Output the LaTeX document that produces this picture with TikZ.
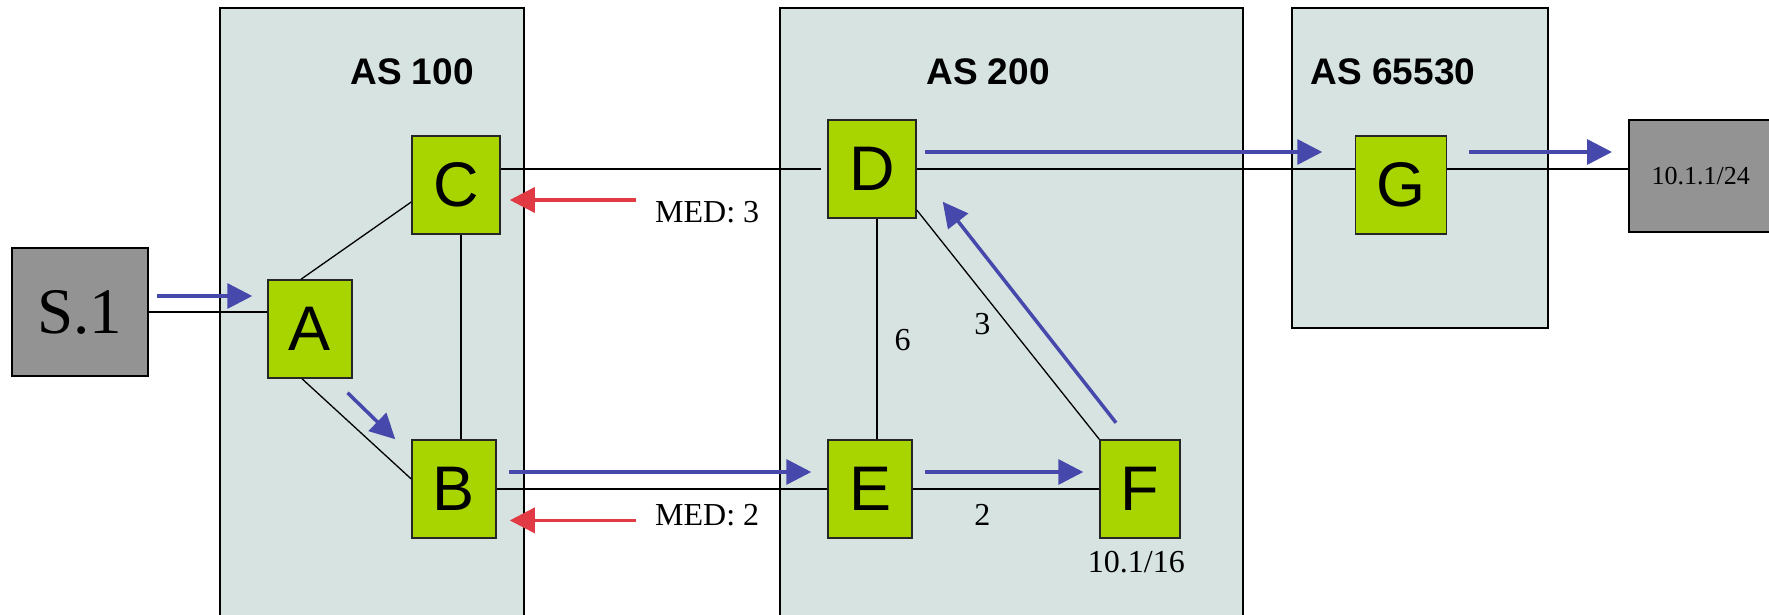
\documentclass[tikz,border=0pt]{standalone}
\usepackage{fontspec}
\setmainfont{Liberation Serif}
\newfontfamily\arialf{Liberation Sans}
\usetikzlibrary{arrows.meta}
\definecolor{asfill}{RGB}{214,227,225}
\definecolor{rgreen}{RGB}{168,212,0}
\definecolor{hostgray}{RGB}{147,147,147}
\definecolor{flowblue}{RGB}{70,72,172}
\definecolor{medred}{RGB}{226,58,68}
\tikzset{
 asbox/.style={draw=black, line width=1.5pt, fill=asfill},
 router/.style={draw=black!85, line width=1.5pt, fill=rgreen, inner sep=0pt, minimum height=98pt, font=\arialf\fontsize{63}{63}\selectfont},
 host/.style={draw=black, line width=1.5pt, fill=hostgray, inner sep=0pt},
 link/.style={line width=1.3pt, black},
 flow/.style={line width=3.5pt, flowblue, -{Triangle[length=25pt,width=25pt]}},
 medflow/.style={line width=3.5pt, medred, -{Triangle[length=25pt,width=25pt]}},
 aslabel/.style={font=\arialf\bfseries\fontsize{37}{37}\selectfont, inner sep=0pt},
 cost/.style={font=\fontsize{32}{32}\selectfont, inner sep=0pt},
}
\begin{document}
\begin{tikzpicture}[x=1pt,y=-1pt]
\clip (0,0) rectangle (1769,615);
% AS areas
\draw[asbox] (220,8) rectangle (524,640);
\draw[asbox] (780,8) rectangle (1243,640);
\draw[asbox] (1292,8) rectangle (1548,328);
\node[aslabel] (as100) at (412,72) {AS 100};
\node[aslabel] (as200) at (988,72) {AS 200};
\node[aslabel] (as65530) at (1393,72) {AS 65530};
% hosts
\node[host, minimum width=136pt, minimum height=128pt, font=\fontsize{65}{65}\selectfont] (s1) at (80,312) {S.1};
\node[host, anchor=west, minimum width=144pt, minimum height=112pt, font=\fontsize{26}{26}\selectfont] (net) at (1628,176) {10.1.1/24};
% routers
\node[router, minimum width=84pt] (a) at (310,329) {A};
\node[router, minimum width=88pt] (c) at (456,185) {C};
\node[router, minimum width=84pt] (b) at (454,489) {B};
\node[router, minimum width=88pt] (d) at (872,169) {D};
\node[router, minimum width=84pt] (e) at (870,489) {E};
\node[router, minimum width=80pt] (f) at (1140,489) {F};
\node[router, minimum width=91pt] (g) at (1401,185) {G};
% links
\draw[link] (s1.east) -- (s1.east -| a.west);
\draw[link] ([xshift=-9pt]a.north) -- ([yshift=-17pt]c.west);
\draw[link] ([xshift=-8pt]a.south) -- ([yshift=10pt]b.west);
\draw[link] ([xshift=5pt]c.south) -- ([xshift=5pt]c.south |- b.north);
\draw[link] (c.east |- d.west) -- ([xshift=-6pt]d.west);
\draw[link] (b.east) -- (e.west);
\draw[link] ([xshift=5pt]d.south) -- ([xshift=5pt]d.south |- e.north);
\draw[link] ([yshift=-41pt]d.east) -- (f.north west);
\draw[link] (e.east) -- (f.west);
\draw[link] (d.east) -- (d.east -| g.west);
\draw[link] (g.east |- d.east) -- (d.east -| net.west);
\draw[line width=2.5pt] (g.east |- d.east) -- ([xshift=36pt]g.east |- d.east);
% labels
\node[cost, anchor=base west] (med3) at (655,222.4) {MED: 3};
\node[cost, anchor=base west] (med2) at (655,525.5) {MED: 2};
\node[cost] (c6) at (902.7,339.6) {6};
\node[cost] (c3) at (982.3,324) {3};
\node[cost] (c2) at (982.3,515.3) {2};
\node[cost, anchor=base] (pfx) at (1136.4,572.5) {10.1/16};
% blue flows
\draw[flow] ([shift={(8pt,16pt)}]s1.east) -- ([shift={(-15pt,33pt)}]a.west);
\draw[flow] ([shift={(37.5pt,-14pt)}]a.south) -- ([xshift=-16pt]b.north west);
\draw[flow] ([shift={(12pt,17pt)}]b.east) -- ([shift={(-16pt,17pt)}]e.west);
\draw[flow] ([shift={(12pt,17pt)}]e.east) -- ([shift={(-16pt,17pt)}]f.west);
\draw[flow] ([shift={(-24pt,16.5pt)}]f.north) -- ([shift={(26pt,17pt)}]d.south east);
\draw[flow] ([shift={(8pt,17pt)}]d.east) -- ([shift={(-32.5pt,33pt)}]g.west);
\draw[flow] ([shift={(21.5pt,33pt)}]g.east) -- ([shift={(-16pt,24pt)}]net.west);
% red MED flows
\coordinate (rc) at ([shift={(9pt,-15pt)}]c.east);
\coordinate (rb) at ([shift={(13pt,-31.4pt)}]b.east);
\coordinate (m3) at ([xshift=-19pt]med3.west);
\coordinate (m2) at ([xshift=-19pt]med2.west);
\draw[medflow] (m3 |- rc) -- (rc);
\draw[medflow] (m2 |- rb) -- (rb);
\end{tikzpicture}
\end{document}
